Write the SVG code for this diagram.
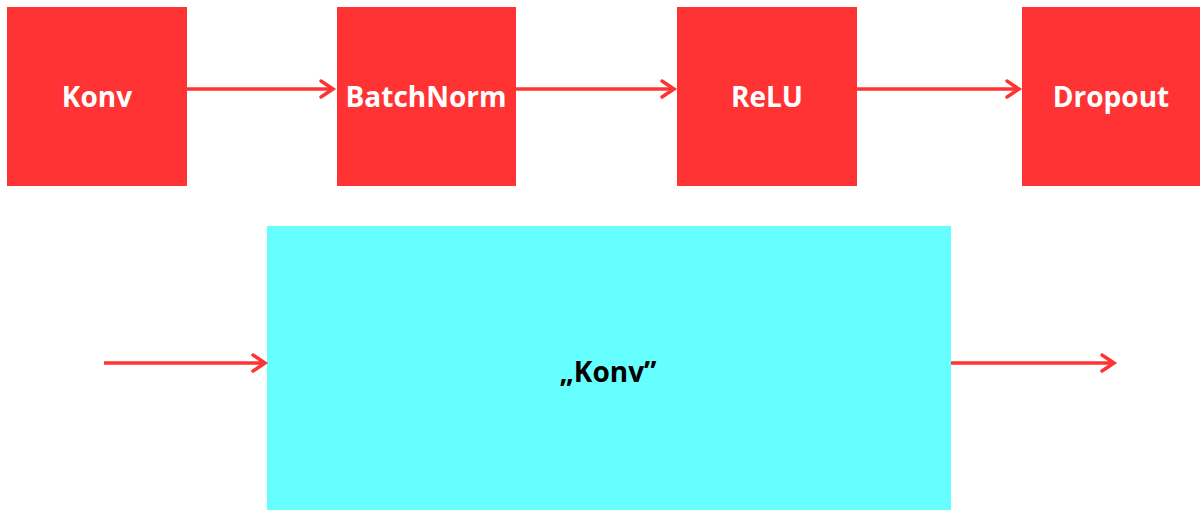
<svg xmlns="http://www.w3.org/2000/svg" width="1200" height="510" viewBox="0 0 1200 510">
  <defs>
    <style>
      .box { fill: #FF3333; }
      .big { fill: #66FFFF; }
      .lbl { font-family: "Open Sans", "Liberation Sans", sans-serif; font-weight: bold; font-size: 28px; text-anchor: middle; }
      .w { fill: #FFFFFF; }
      .k { fill: #000000; }
      .edge { stroke: #FF3333; stroke-width: 3.5; fill: none; }
      .head { stroke: #FF3333; stroke-width: 3.5; fill: none; stroke-linecap: round; stroke-linejoin: miter; }
    </style>
  </defs>
  <rect width="1200" height="510" fill="#FFFFFF"/>

  <g id="node-konv">
    <rect class="box" x="7" y="7" width="180" height="179"/>
    <text class="lbl w" x="97" y="107">Konv</text>
  </g>
  <g id="node-batchnorm">
    <rect class="box" x="337" y="7" width="179" height="179"/>
    <text class="lbl w" x="426" y="107">BatchNorm</text>
  </g>
  <g id="node-relu">
    <rect class="box" x="677" y="7" width="180" height="179"/>
    <text class="lbl w" x="767" y="107">ReLU</text>
  </g>
  <g id="node-dropout">
    <rect class="box" x="1022" y="7" width="178" height="179"/>
    <text class="lbl w" x="1111" y="107">Dropout</text>
  </g>
  <g id="node-block">
    <rect class="big" x="267" y="226" width="684" height="284"/>
    <text class="lbl k" x="608" y="382">„Konv”</text>
  </g>

  <g id="connectors">
    <line class="edge" x1="187" y1="89" x2="333" y2="89"/>
    <polyline class="head" points="321,81 333,89 321,97"/>
    <line class="edge" x1="516" y1="89" x2="674" y2="89"/>
    <polyline class="head" points="662,81 674,89 662,97"/>
    <line class="edge" x1="857" y1="89" x2="1019" y2="89"/>
    <polyline class="head" points="1007,81 1019,89 1007,97"/>
    <line class="edge" x1="104" y1="363" x2="265" y2="363"/>
    <polyline class="head" points="253,355 265,363 253,371"/>
    <line class="edge" x1="951" y1="363" x2="1114" y2="363"/>
    <polyline class="head" points="1102,355 1114,363 1102,371"/>
  </g>
</svg>
